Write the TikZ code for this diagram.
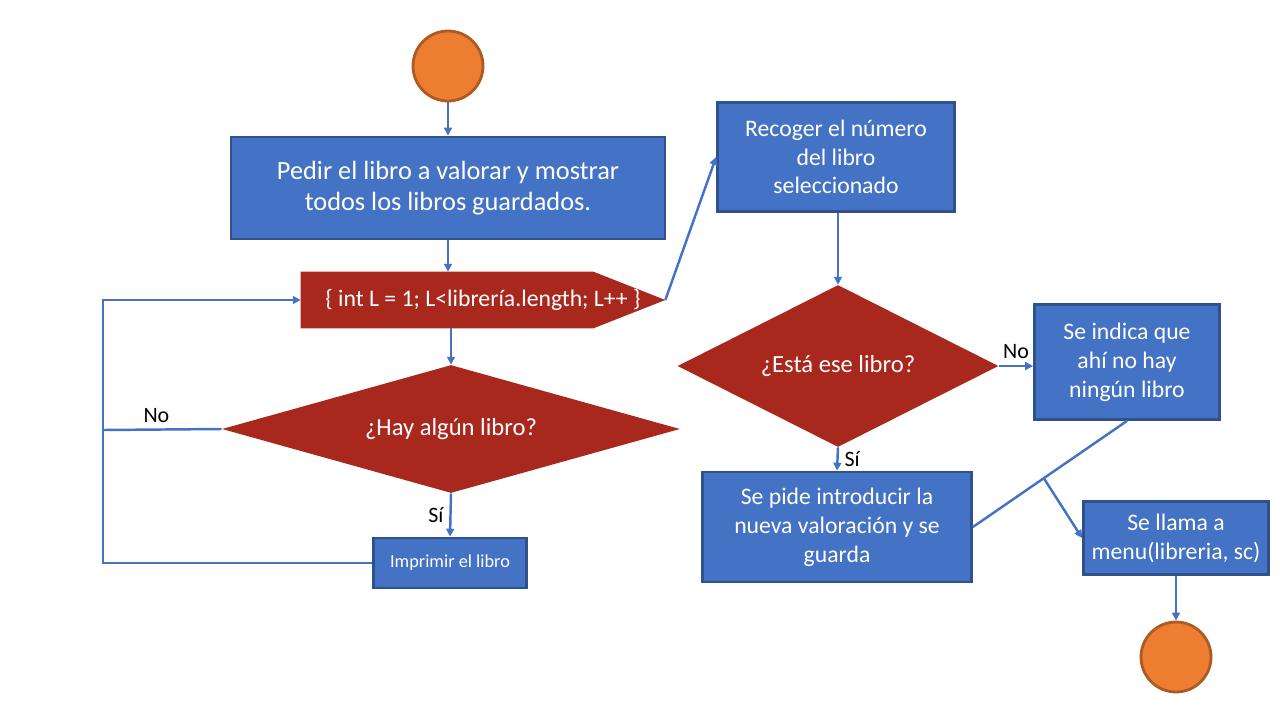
\documentclass[tikz,border=0pt]{standalone}
\usepackage{fontspec}
\setmainfont{Carlito}
\usetikzlibrary{calc,shapes.geometric,arrows.meta,backgrounds}
\definecolor{boxblue}{HTML}{4472C4}
\definecolor{boxedge}{HTML}{2F528F}
\definecolor{decred}{HTML}{A9281E}
\definecolor{termorange}{HTML}{ED7D31}
\definecolor{termedge}{HTML}{AE5A21}

\begin{document}
\begin{tikzpicture}[x=0.02cm, y=-0.02cm,
  proc/.style={rectangle, draw=boxedge, fill=boxblue, line width=1.6pt, text=white, align=center, inner sep=0pt, font=\fontsize{13.5}{16.4}\selectfont},
  cond/.style={diamond, fill=decred, text=white, align=center, inner sep=0pt, font=\fontsize{14}{16}\selectfont},
  term/.style={circle, draw=termedge, fill=termorange, line width=1.6pt, minimum size=1.4cm, inner sep=0pt},
  flow/.style={draw=boxblue, line width=1.4pt},
  arr/.style={flow, -{Triangle[length=4.5pt,width=4.5pt]}},
  lbl/.style={text=black, font=\fontsize{12.5}{14}\selectfont}]

\useasboundingbox (0,0) rectangle (1280,720);


\node[term] (start) at (448,66) {};
\node[proc, minimum width=8.68cm, minimum height=2.04cm, font=\fontsize{15}{17.6}\selectfont] (ask) at (448,188) {Pedir el libro a valorar y mostrar\\todos los libros guardados.};
\node[minimum width=7.28cm, minimum height=1.12cm, inner sep=0pt, text=white, font=\fontsize{13.5}{15}\selectfont] (loop) at (483,300) {\{ int L = 1; L<librería.length; L++ \}};
\node[cond, shape aspect=3.6, minimum width=9.16cm, minimum height=2.56cm] (any) at (451,429) {¿Hay algún libro?};
\node[proc, minimum width=3.06cm, minimum height=1cm, font=\fontsize{10.4}{12}\selectfont] (print) at (450,563) {Imprimir el libro};

\node[proc, minimum width=4.74cm, minimum height=2.18cm] (pick) at (836,157) {Recoger el número\\del libro\\seleccionado};
\node[cond, shape aspect=2, minimum width=6.42cm, minimum height=3.24cm] (found) at (838,366) {¿Está ese libro?};
\node[proc, minimum width=3.7cm, minimum height=2.3cm] (none) at (1127,362) {Se indica que\\ahí no hay\\ningún libro};
\node[proc, minimum width=5.38cm, minimum height=2.2cm] (rate) at (837,527) {Se pide introducir la\\nueva valoración y se\\guarda};
\node[proc, minimum width=3.7cm, minimum height=1.46cm] (menu) at (1176,538) {Se llama a\\menu(libreria, sc)};
\node[term] (end) at (1176,657) {};


\begin{scope}[on background layer]
\fill[decred] (loop.north west) -- ($(loop.north east)+(-72,0)$) -- (loop.east) -- ($(loop.south east)+(-72,0)$) -- (loop.south west) -- cycle;
\end{scope}


\coordinate (L1) at (103,300);
\coordinate (L2) at (103,563);
\coordinate (LN) at (103,430);
\coordinate (J) at ($(rate.east)!0.46!(none.south)$);


\draw[arr] (start) -- (ask);
\draw[arr] (ask.south) -- (ask.south |- loop.north);
\draw[arr] (any.north |- loop.south) -- (any.north);
\draw[arr] (any.south) -- node[lbl, left] {Sí} (print.north);
\draw[arr] (print.west) -- (L2) -- (L1) -- (loop.west);
\draw[flow] (any.west) -- node[lbl, above, pos=0.55] {No} (LN);

\draw[arr] (loop.east) -- (pick.west);
\draw[arr] (pick.south -| found.north) -- (found.north);
\draw[arr] (found.east) -- node[lbl, above] {No} (found.east -| none.west);
\draw[arr] (found.south) -- node[lbl, right] {Sí} (rate.north);
\draw[flow] (rate.east) -- (none.south);
\draw[arr] (J) -- (menu.west);
\draw[arr] (menu.south) -- (end.north);

\end{tikzpicture}
\end{document}
